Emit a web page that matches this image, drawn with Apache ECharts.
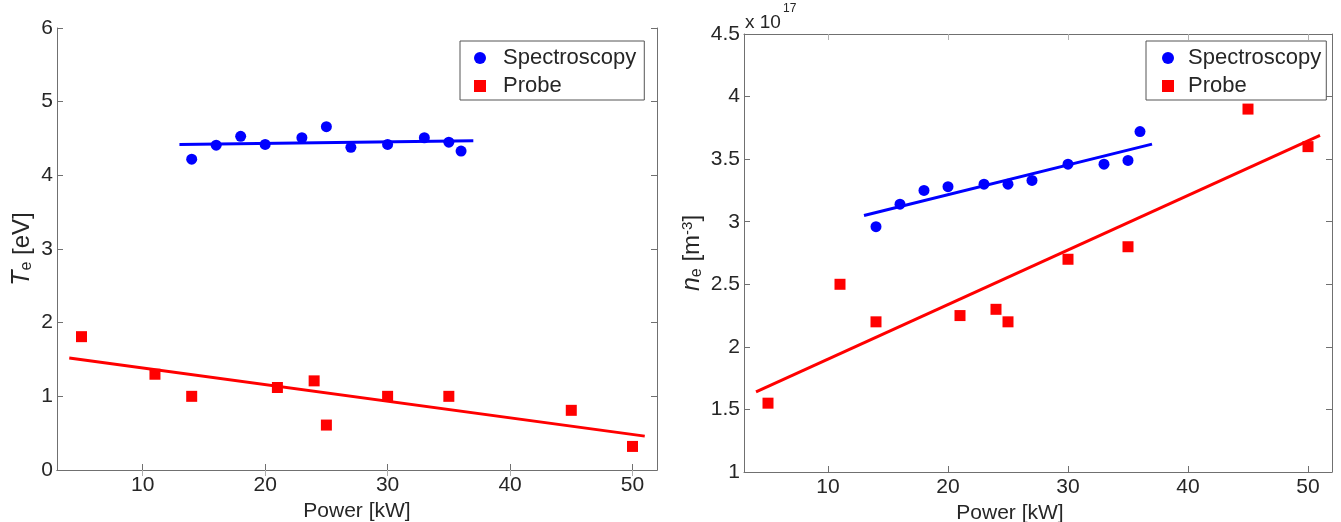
<!DOCTYPE html>
<html>
<head>
<meta charset="utf-8">
<script src="https://cdn.jsdelivr.net/npm/echarts@6/dist/echarts.min.js"></script>
<style>html,body{margin:0;background:#fff}#chart{width:1341px;height:522px}</style>
</head>
<body>
<div id="chart"></div>
<script>
// values
var specPower = [14, 16, 18, 20, 23, 25, 27, 30, 33, 35, 36];
var specTe = [4.22, 4.41, 4.53, 4.42, 4.51, 4.66, 4.38, 4.42, 4.51, 4.45, 4.33];
var specNe = [2.96, 3.14, 3.25, 3.28, 3.30, 3.30, 3.33, 3.46, 3.46, 3.49, 3.72]; // x 10^17
var probePower = [5, 11, 14, 21, 24, 25, 30, 35, 45, 50];
var probeTe = [1.81, 1.30, 1.00, 1.12, 1.21, 0.61, 1.00, 1.00, 0.81, 0.32];
var probeNe = [1.55, 2.50, 2.20, 2.25, 2.30, 2.20, 2.70, 2.80, 3.90, 3.60];
// linear fits (end points)
var specTeFit = [[13, 4.42], [37, 4.47]];
var probeTeFit = [[4, 1.52], [51, 0.46]];
var specNeFit = [[13, 3.05], [37, 3.62]];
var probeNeFit = [[4, 1.64], [51, 3.69]];
var powerTicks = [10, 20, 30, 40, 50];

var font = 'Liberation Sans, Arial, sans-serif';
var axisColor = '#707070', textColor = '#262626';
var blue = '#0000ff', red = '#ff0000';

function zip(xs, ys) {
    return xs.map(function (x, i) { return [x, ys[i]]; });
}

function bottomAxis(gi, namePad) {
    return {
        type: 'value', gridIndex: gi, min: 3, max: 52,
        name: 'Power [kW]', nameLocation: 'middle', nameGap: 22,
        nameTextStyle: {fontSize: 21, color: textColor, fontFamily: font, padding: namePad},
        axisLine: {lineStyle: {color: axisColor}},
        axisTick: {inside: true, length: 6, customValues: powerTicks, lineStyle: {color: axisColor}},
        axisLabel: {customValues: powerTicks, margin: 5, fontSize: 21, color: textColor, fontFamily: font},
        splitLine: {show: false}
    };
}
function topAxis(gi) {
    return {
        type: 'value', gridIndex: gi, position: 'top', min: 3, max: 52,
        axisLine: {lineStyle: {color: axisColor}},
        axisTick: {inside: true, length: 6, customValues: powerTicks, lineStyle: {color: '#b0b0b0'}},
        axisLabel: {show: false}, splitLine: {show: false}
    };
}
function leftAxis(gi, min, max, step, name, gap) {
    return {
        type: 'value', gridIndex: gi, min: min, max: max, interval: step,
        name: name, nameLocation: 'middle', nameGap: gap, nameRotate: 90,
        nameTextStyle: {
            fontSize: 24, color: textColor, fontFamily: font,
            rich: {
                it: {fontSize: 25, fontStyle: 'italic', color: textColor, fontFamily: font},
                sub: {fontSize: 16, color: textColor, fontFamily: font, verticalAlign: 'bottom'},
                sup: {fontSize: 15, color: textColor, fontFamily: font, verticalAlign: 'top'},
                t: {fontSize: 24, color: textColor, fontFamily: font}
            }
        },
        axisLine: {lineStyle: {color: axisColor}},
        axisTick: {inside: true, length: 6, lineStyle: {color: axisColor}},
        axisLabel: {margin: 4, fontSize: 21, color: textColor, fontFamily: font},
        splitLine: {show: false}
    };
}
function rightAxis(gi, min, max, step) {
    return {
        type: 'value', gridIndex: gi, position: 'right', min: min, max: max, interval: step,
        axisLine: {lineStyle: {color: axisColor}},
        axisTick: {inside: true, length: 6, lineStyle: {color: axisColor}},
        axisLabel: {show: false}, splitLine: {show: false}
    };
}
function legendBox(left, top, padLeft, textPad, padRight) {
    return {
        left: left, top: top, orient: 'vertical', selectedMode: false,
        data: [{name: 'Spectroscopy', icon: 'circle'}, {name: 'Probe', icon: 'rect'}],
        itemWidth: 12, itemHeight: 12, itemGap: 6,
        padding: [6, padRight, 3, padLeft],
        borderColor: '#555', borderWidth: 1, backgroundColor: '#fff',
        textStyle: {fontSize: 22, color: textColor, fontFamily: font, padding: [0, 0, 0, textPad]}
    };
}
function dots(name, data, xi, yi, symbol, color) {
    return {
        name: name, type: 'scatter', xAxisIndex: xi, yAxisIndex: yi, data: data,
        symbol: symbol, symbolSize: 11, itemStyle: {color: color, opacity: 1}, z: 3
    };
}
function fit(name, data, xi, yi, color) {
    return {
        name: name, type: 'line', xAxisIndex: xi, yAxisIndex: yi, data: data,
        showSymbol: false, symbol: 'none', lineStyle: {color: color, width: 3}, z: 2
    };
}

var chart = echarts.init(document.getElementById('chart'));
chart.setOption({
    backgroundColor: '#fff',
    animation: false,
    grid: [
        {left: 57, top: 28, width: 600, height: 442, outerBoundsMode: 'none'},
        {left: 744, top: 34, width: 588, height: 438, outerBoundsMode: 'none'}
    ],
    xAxis: [bottomAxis(0), topAxis(0), bottomAxis(1, [0, 56, 0, 0]), topAxis(1)],
    yAxis: [
        leftAxis(0, 0, 6, 1, '{it|T}{sub|e}{t| [eV]}', 22),
        rightAxis(0, 0, 6, 1),
        leftAxis(1, 1, 4.5, 0.5, '{it|n}{sub|e}{t| [m}{sup|-3}{t|]}', 39),
        rightAxis(1, 1, 4.5, 0.5)
    ],
    legend: [legendBox(460, 41, 14, 12, 8), legendBox(1146, 41, 16, 9, 5)],
    graphic: [
        {type: 'text', left: 745, top: 13, style: {text: 'x 10', fontSize: 19, fill: textColor, fontFamily: font}},
        {type: 'text', left: 783, top: 3, style: {text: '17', fontSize: 12, fill: textColor, fontFamily: font}}
    ],
    series: [
        fit('Spectroscopy fit', specTeFit, 0, 0, blue),
        fit('Probe fit', probeTeFit, 0, 0, red),
        dots('Spectroscopy', zip(specPower, specTe), 0, 0, 'circle', blue),
        dots('Probe', zip(probePower, probeTe), 0, 0, 'rect', red),
        fit('Spectroscopy fit', specNeFit, 2, 2, blue),
        fit('Probe fit', probeNeFit, 2, 2, red),
        dots('Spectroscopy', zip(specPower, specNe), 2, 2, 'circle', blue),
        dots('Probe', zip(probePower, probeNe), 2, 2, 'rect', red)
    ]
});
</script>
</body>
</html>
